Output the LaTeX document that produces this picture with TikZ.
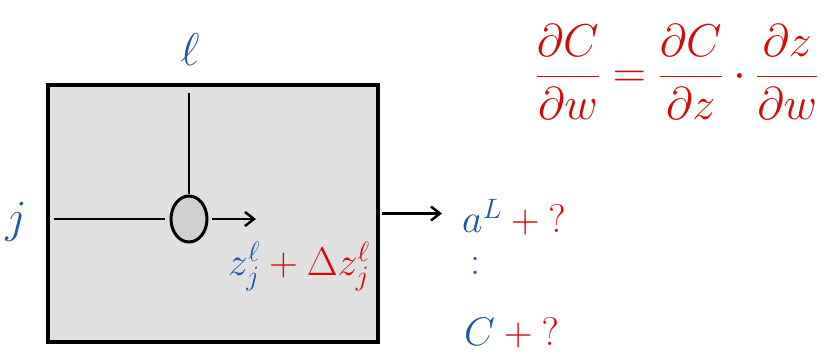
\RequirePackage{fix-cm}
\documentclass[tikz,border=0pt]{standalone}
\usepackage{tikz}
\usetikzlibrary{arrows.meta,positioning,shapes.geometric,calc}
\definecolor{cBlue}{HTML}{1F57A4}
\definecolor{cRed}{HTML}{D20A0A}
\definecolor{cBox}{HTML}{E0E0E0}
\definecolor{cUnit}{HTML}{D0D0D0}
\newcommand{\hand}{\fontsize{40}{44}\selectfont}
\newcommand{\bighand}{\fontsize{46}{50}\selectfont}

\begin{document}
\begin{tikzpicture}[
  x=1pt,y=-1pt,font=\hand,
  layer/.style={rectangle,draw=black,line width=3.5pt,fill=cBox,
              minimum width=330pt,minimum height=257pt,inner sep=0pt},
  unit/.style={ellipse,draw=black,line width=3pt,fill=cUnit,
              minimum width=36pt,minimum height=46pt,inner sep=0pt},
  lbl/.style={text=#1,inner sep=0pt},
  wire/.style={line width=2.5pt,draw=black},
  ar/.style={-{Straight Barb[length=9pt,width=14pt,line width=2.5pt]},line width=2.5pt,draw=black}
]
\useasboundingbox (0,0) rectangle (824,355);

%======================= LAYER BOX =======================
\node[layer] (box) at (213,213.5) {};
\node[unit] (neuron) at (189,219) {};
\coordinate (wtop) at (189,93);
\coordinate (win) at (54,219);
\coordinate (zout) at (256,219);
\draw[wire] (wtop) -- (neuron.north);
\draw[wire] (win) -- ([xshift=-5pt]neuron.west);
\draw[ar] ([xshift=3pt]neuron.east) -- (zout);

%======================= LABELS =======================
\node[lbl=cBlue,font=\bighand] (l) at (190,50) {$\ell$};
\node[lbl=cBlue,font=\bighand] (j) at (16,222) {$j$};
\node[lbl=cBlue,anchor=base west] (z) at (228,276)
  {$\textcolor{cBlue}{z^{\ell}_{j}}\mathbin{\textcolor{cRed}{+}}\textcolor{cRed}{\Delta z^{\ell}_{j}}$};

%======================= OUTPUT =======================
\node[lbl=cBlue,anchor=base west] (aL) at (462,233)
  {$\textcolor{cBlue}{a^{L}}\mathbin{\textcolor{cRed}{+}}\textcolor{cRed}{?}$};
\node[lbl=cBlue] (dots) at (475,266) {:};
\node[lbl=cBlue,anchor=base west] (C) at (464,345)
  {$\textcolor{cBlue}{C}\mathbin{\textcolor{cRed}{+}}\textcolor{cRed}{?}$};
\draw[ar,shorten >=20pt] ([xshift=2pt]box.east) -- (box.east -| aL.west);

%======================= CHAIN RULE =======================
\node[lbl=cRed,font=\bighand] (rule) at (677,72)
  {$\displaystyle\frac{\partial C}{\partial w}=\frac{\partial C}{\partial z}\cdot\frac{\partial z}{\partial w}$};

\end{tikzpicture}
\end{document}
